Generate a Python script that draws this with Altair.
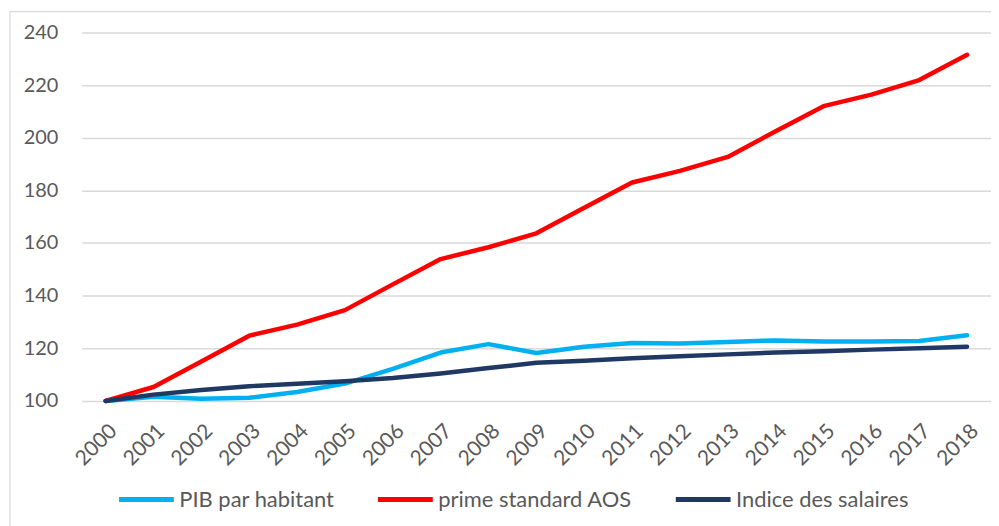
import altair as alt
import pandas as pd

years = [str(y) for y in range(2000, 2019)]
pib = [100, 101.6, 100.8, 101.2, 103.4, 106.6, 112.2, 118.4, 121.6, 118.2, 120.6, 122.0, 121.8, 122.4, 123.0, 122.6, 122.6, 122.8, 125.0]
prime = [100, 105.3, 115.0, 124.8, 129.0, 134.5, 144.3, 153.9, 158.4, 163.7, 173.4, 183.0, 187.4, 192.7, 202.5, 212.0, 216.4, 221.9, 231.5]
salaires = [100, 102.4, 104.2, 105.6, 106.5, 107.5, 108.7, 110.4, 112.5, 114.5, 115.3, 116.2, 117.0, 117.7, 118.4, 118.9, 119.5, 120.0, 120.6]
series = ["PIB par habitant", "prime standard AOS", "Indice des salaires"]
colors = ["#00B0F0", "#FF0000", "#1F3864"]

rows = []
for name, vals in zip(series, [pib, prime, salaires]):
    for y, v in zip(years, vals):
        rows.append({"annee": y, "valeur": v, "serie": name})
df = pd.DataFrame(rows)

FONT = "Lato"
GRAY = "#595959"

x_enc = alt.X("annee:O", sort=years,
              scale=alt.Scale(type="point", padding=0.5),
              axis=alt.Axis(title=None, labelAngle=-45, domain=False, ticks=False,
                            labelPadding=19, labelFontSize=21, labelColor=GRAY,
                            labelFont=FONT, grid=False))
y_enc = alt.Y("valeur:Q",
              scale=alt.Scale(domain=[100, 240], nice=False, zero=False),
              axis=alt.Axis(title=None, values=[100, 120, 140, 160, 180, 200, 220, 240],
                            domain=False, ticks=False, labelPadding=24,
                            labelFontSize=20, labelColor=GRAY, labelFont=FONT,
                            gridColor="#D9D9D9", gridWidth=1.5))
color_enc = alt.Color("serie:N",
                      scale=alt.Scale(domain=series, range=colors),
                      legend=alt.Legend(title=None, orient="none", direction="horizontal",
                                        legendX=35, legendY=439,
                                        symbolType="stroke", symbolSize=3025,
                                        symbolStrokeWidth=5, labelFontSize=22,
                                        labelFont=FONT, labelColor=GRAY, labelLimit=0,
                                        columnPadding=33, labelOffset=3,
                                        symbolOpacity=1))

layers = []
for name in series:
    layers.append(
        alt.Chart(df).transform_filter(alt.datum.serie == name)
        .mark_line(strokeWidth=4.5, strokeCap="round", strokeJoin="round")
        .encode(x=x_enc, y=y_enc, color=color_enc)
    )

border = alt.Chart(pd.DataFrame({"a": [0]})).mark_rect(
    fill=None, stroke="#D9D9D9", strokeWidth=1.2, clip=False
).encode(x=alt.value(-72), x2=alt.value(1000), y=alt.value(-21), y2=alt.value(700))

chart = alt.layer(border, *layers).properties(
    width=913, height=370,
    autosize=alt.AutoSizeParams(type="none"),
    padding={"left": 74, "top": 23.5, "right": 0, "bottom": 124},
).configure_view(stroke=None)

chart.save("out.html", embed_options={"renderer": "svg", "actions": False})
